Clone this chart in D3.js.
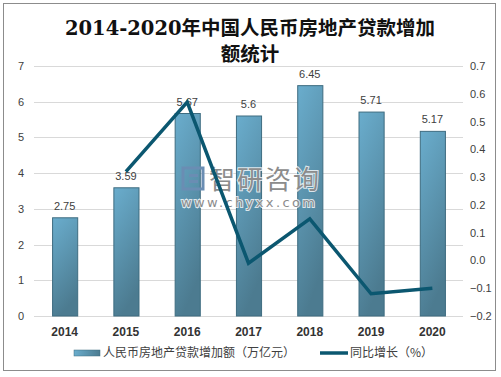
<!DOCTYPE html>
<html>
<head>
<meta charset="utf-8">
<script src="https://cdn.jsdelivr.net/npm/d3@7/dist/d3.min.js"></script>
<style>
  body { margin: 0; background: #fff; }
  text { font-family: "Liberation Sans", Arial, "Noto Sans CJK SC", sans-serif; }
</style>
</head>
<body>
<svg id="chart"></svg>
<script>
const years = ["2014", "2015", "2016", "2017", "2018", "2019", "2020"];
const loans = [2.75, 3.59, 5.67, 5.6, 6.45, 5.71, 5.17];
const growth = [0.32, 0.57, -0.01, 0.15, -0.12, -0.10];
const growthYears = ["2015", "2016", "2017", "2018", "2019", "2020"];
const leftTicks = [0, 1, 2, 3, 4, 5, 6, 7];
const rightTicks = [-0.2, -0.1, 0, 0.1, 0.2, 0.3, 0.4, 0.5, 0.6, 0.7];
const titleLines = ["2014-2020年中国人民币房地产贷款增加", "额统计"];
const legendLabels = ["人民币房地产贷款增加额（万亿元）", "同比增长（%）"];

const W = 501, H = 377;
const plot = {left: 34, right: 463, top: 66, bottom: 316};

const svg = d3.select("#chart").attr("width", W).attr("height", H);

// frame
svg.append("rect").attr("x", 3.5).attr("y", 3.5).attr("width", 492).attr("height", 367)
  .attr("fill", "#fff").attr("stroke", "#8c8c8c").attr("stroke-width", 1);

const defs = svg.append("defs");
const grad = defs.append("linearGradient").attr("id", "barGrad")
  .attr("x1", 0).attr("y1", 0).attr("x2", 0.3).attr("y2", 1);
grad.append("stop").attr("offset", "0%").attr("stop-color", "#6aadcd");
grad.append("stop").attr("offset", "100%").attr("stop-color", "#4c7b90");
const lgGrad = defs.append("linearGradient").attr("id", "legGrad")
  .attr("x1", 0).attr("y1", 0).attr("x2", 1).attr("y2", 0);
lgGrad.append("stop").attr("offset", "0%").attr("stop-color", "#6aadcd");
lgGrad.append("stop").attr("offset", "100%").attr("stop-color", "#4c7b90");

// title
svg.append("g").selectAll("text").data(titleLines).enter().append("text")
  .attr("x", 250).attr("y", (d, i) => 35 + i * 26)
  .attr("text-anchor", "middle")
  .style("font-family", "'DejaVu Serif', 'Noto Sans CJK SC', serif")
  .style("font-size", "19.5px").style("font-weight", "bold").attr("fill", "#111")
  .text(d => d);

const x = d3.scaleBand().domain(years).range([plot.left, plot.right])
  .paddingInner(0.59).paddingOuter(0.295);
const y = d3.scaleLinear().domain([0, 7]).range([plot.bottom, plot.top]);
const y2 = d3.scaleLinear().domain([-0.2, 0.7]).range([plot.bottom, plot.top]);

// gridlines
svg.append("g").selectAll("line").data(leftTicks).enter().append("line")
  .attr("x1", plot.left).attr("x2", plot.right)
  .attr("y1", d => Math.round(y(d)) + 0.5).attr("y2", d => Math.round(y(d)) + 0.5)
  .attr("stroke", "#d9d9d9");

// left axis
const yAxis = d3.axisLeft(y).tickValues(leftTicks).tickSize(0).tickPadding(0)
  .tickFormat(d3.format("d"));
const gl = svg.append("g").attr("transform", "translate(24,0)").call(yAxis);
gl.select(".domain").remove();
gl.selectAll("text").style("font-size", "11px").attr("fill", "#404040");

// right axis
const y2Axis = d3.axisRight(y2).tickValues(rightTicks).tickSize(0).tickPadding(0)
  .tickFormat(d3.format(".1f"));
const gr = svg.append("g").attr("transform", "translate(470,0)").call(y2Axis);
gr.select(".domain").remove();
gr.selectAll("text").style("font-size", "11px").attr("fill", "#404040");

// bars
svg.append("g").selectAll("rect").data(loans).enter().append("rect")
  .attr("x", (d, i) => x(years[i]) + 0.5)
  .attr("y", d => y(d))
  .attr("width", x.bandwidth())
  .attr("height", d => y(0) - y(d))
  .attr("fill", "url(#barGrad)")
  .attr("stroke", "#3e6c80").attr("stroke-width", 1);

// bar labels
svg.append("g").selectAll("text").data(loans).enter().append("text")
  .attr("x", (d, i) => x(years[i]) + x.bandwidth() / 2)
  .attr("y", d => y(d) - 8)
  .attr("text-anchor", "middle")
  .style("font-size", "11px").attr("fill", "#404040")
  .text(d => d);

// x axis labels
const xAxis = d3.axisBottom(x).tickSize(0).tickPadding(0);
const gx = svg.append("g").attr("transform", "translate(0,327)").call(xAxis);
gx.select(".domain").remove();
gx.selectAll("text").style("font-size", "12px").style("font-weight", "bold").attr("fill", "#333");

// watermark
const wm = svg.append("g");
wm.append("rect").attr("x", 183).attr("y", 168).attr("width", 20).attr("height", 21)
  .attr("fill", "none").attr("stroke", "#6a8db3").attr("stroke-width", 3);
wm.append("rect").attr("x", 189).attr("y", 174).attr("width", 9).attr("height", 3).attr("fill", "#6a8db3");
wm.append("rect").attr("x", 189).attr("y", 180).attr("width", 9).attr("height", 3).attr("fill", "#6a8db3");
wm.append("text").attr("x", 209).attr("y", 189)
  .style("font-family", "'Noto Sans CJK SC', sans-serif").style("font-size", "26px")
  .attr("fill", "#8c8c8c").attr("stroke", "#ffffff").attr("stroke-width", 2)
  .attr("paint-order", "stroke").attr("stroke-opacity", 0.8)
  .attr("letter-spacing", "2").text("智研咨询");
wm.append("text").attr("x", 181).attr("y", 207)
  .style("font-family", "'DejaVu Sans', sans-serif").style("font-size", "13px")
  .attr("fill", "#8c8c8c").attr("stroke", "#ffffff").attr("stroke-width", 2)
  .attr("paint-order", "stroke").attr("stroke-opacity", 0.8)
  .attr("letter-spacing", "2.4").text("www.chyxx.com");

// growth line
const line = d3.line().x((d, i) => x(growthYears[i]) + x.bandwidth() / 2).y(d => y2(d));
svg.append("path").attr("d", line(growth))
  .attr("fill", "none").attr("stroke", "#0b5770").attr("stroke-width", 3.5)
  .attr("stroke-linejoin", "miter");

// legend
const leg = svg.append("g");
leg.append("rect").attr("x", 74).attr("y", 350).attr("width", 26).attr("height", 6)
  .attr("fill", "url(#legGrad)").attr("stroke", "#3e6c80").attr("stroke-width", 0.5);
leg.append("text").attr("x", 103).attr("y", 357)
  .style("font-family", "'Noto Sans CJK SC', sans-serif")
  .style("font-size", "12px").attr("fill", "#404040").text(legendLabels[0]);
leg.append("line").attr("x1", 320).attr("x2", 348).attr("y1", 353).attr("y2", 353)
  .attr("stroke", "#0b5770").attr("stroke-width", 3.5);
leg.append("text").attr("x", 350).attr("y", 357)
  .style("font-family", "'Noto Sans CJK SC', sans-serif")
  .style("font-size", "12px").attr("fill", "#404040").text(legendLabels[1]);
</script>
</body>
</html>
